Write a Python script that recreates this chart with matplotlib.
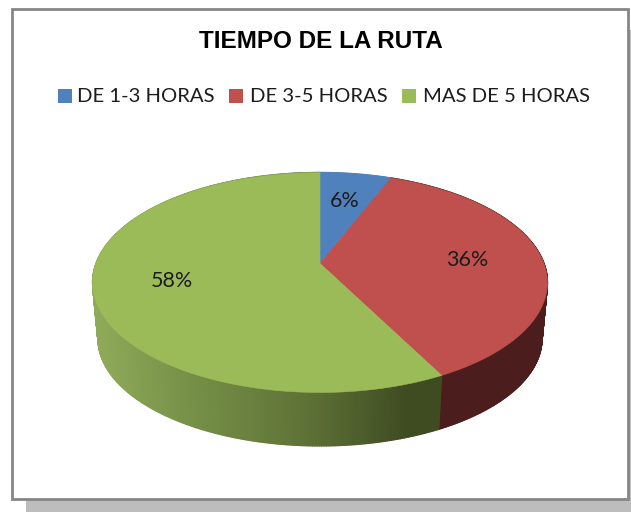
import numpy as np
import matplotlib
matplotlib.use("Agg")
import matplotlib.pyplot as plt
from matplotlib.patches import Rectangle, Polygon
from matplotlib.collections import PolyCollection
from matplotlib.colors import LinearSegmentedColormap

title = "TIEMPO DE LA RUTA"
categories = ["DE 1-3 HORAS", "DE 3-5 HORAS", "MAS DE 5 HORAS"]
values = [6.0, 36.4, 57.6]
colors = ["#4f81bd", "#c0504d", "#9bbb59"]

fig = plt.figure(figsize=(6.31, 5.12), dpi=100)
ax = fig.add_axes([0, 0, 1, 1])
ax.set_xlim(0, 631)
ax.set_ylim(512, 0)
ax.axis("off")

# Frame and drop shadow
ax.add_patch(Rectangle((26, 30), 605, 482, fc="#bdbdbd", ec="none", zorder=0))
ax.add_patch(Rectangle((12, 8.5), 616, 490, fc="white", ec="#868686", lw=2, zorder=1))

# Perspective projection of the disc
K = 0.1727


def project(theta_deg, r=1.0, cx=320.0, cy=263.5, a=224.0, b=106.7, s=1.0):
    t = np.radians(theta_deg)
    u, v = r * np.sin(t), r * np.cos(t)
    d = 1 + K * v
    return cx + s * a * u / d, cy - s * b * v / d


def project_low(theta_deg):
    return project(theta_deg, cy=320.0, s=0.976)


green_side = LinearSegmentedColormap.from_list(
    "gs", [(0, "#8fab59"), (0.3, "#748e46"), (0.6, "#5f7337"), (0.9, "#3f4c22"), (1, "#3f4c22")]
)
red_side = "#4b1d1c"

edges = np.cumsum([0] + values) * 3.6

# Side wall, built from thin quads along the rim
for i in range(len(values)):
    th = np.arange(edges[i], edges[i + 1] + 0.01, 0.5)
    if th[-1] < edges[i + 1]:
        th = np.append(th, edges[i + 1])
    xt, yt = project(th)
    xb, yb = project_low(th)
    quads, cols = [], []
    for j in range(len(th) - 1):
        quads.append([(xt[j], yt[j]), (xt[j + 1], yt[j + 1]), (xb[j + 1], yb[j + 1]), (xb[j], yb[j])])
        f = np.clip((0.5 * (xb[j] + xb[j + 1]) - 97) / (440 - 97), 0, 1)
        if i == 2:
            cols.append(green_side(f))
        elif i == 1:
            cols.append(red_side)
        else:
            cols.append(colors[0])
    ax.add_collection(PolyCollection(quads, facecolors=cols, edgecolors=cols, linewidths=1.0, zorder=2))

# Top faces
for i in range(len(values)):
    th = np.linspace(edges[i], edges[i + 1], 300)
    x, y = project(th)
    cx, cy = project(0.0, 0.0)
    pts = np.column_stack([np.r_[cx, x], np.r_[cy, y]])
    ax.add_patch(Polygon(pts, closed=True, fc=colors[i], ec=colors[i], lw=0.4, zorder=3))

# Percentage labels
for i, val in enumerate(values):
    mid = 0.5 * (edges[i] + edges[i + 1])
    lx, ly = project(mid, 0.66)
    ax.text(lx, ly, f"{val:.0f}%", ha="center", va="center", fontsize=15.5,
            family="Lato", color="#1c1c1c", zorder=4)

# Title
ax.text(320.5, 41.5, title, ha="center", va="center", fontsize=17.5, fontweight="bold",
        family="Liberation Sans", color="black", zorder=4)

# Legend
marker_x = [58, 229, 402]
text_x = [77, 250, 423]
for mx, tx, c, lab in zip(marker_x, text_x, colors, categories):
    ax.add_patch(Rectangle((mx, 89), 13.5, 14, fc=c, ec="none", zorder=4))
    ax.text(tx, 96, lab, ha="left", va="center", fontsize=14.6, family="Lato", color="#1c1c1c", zorder=4)

fig.savefig("out.png", dpi=100)
